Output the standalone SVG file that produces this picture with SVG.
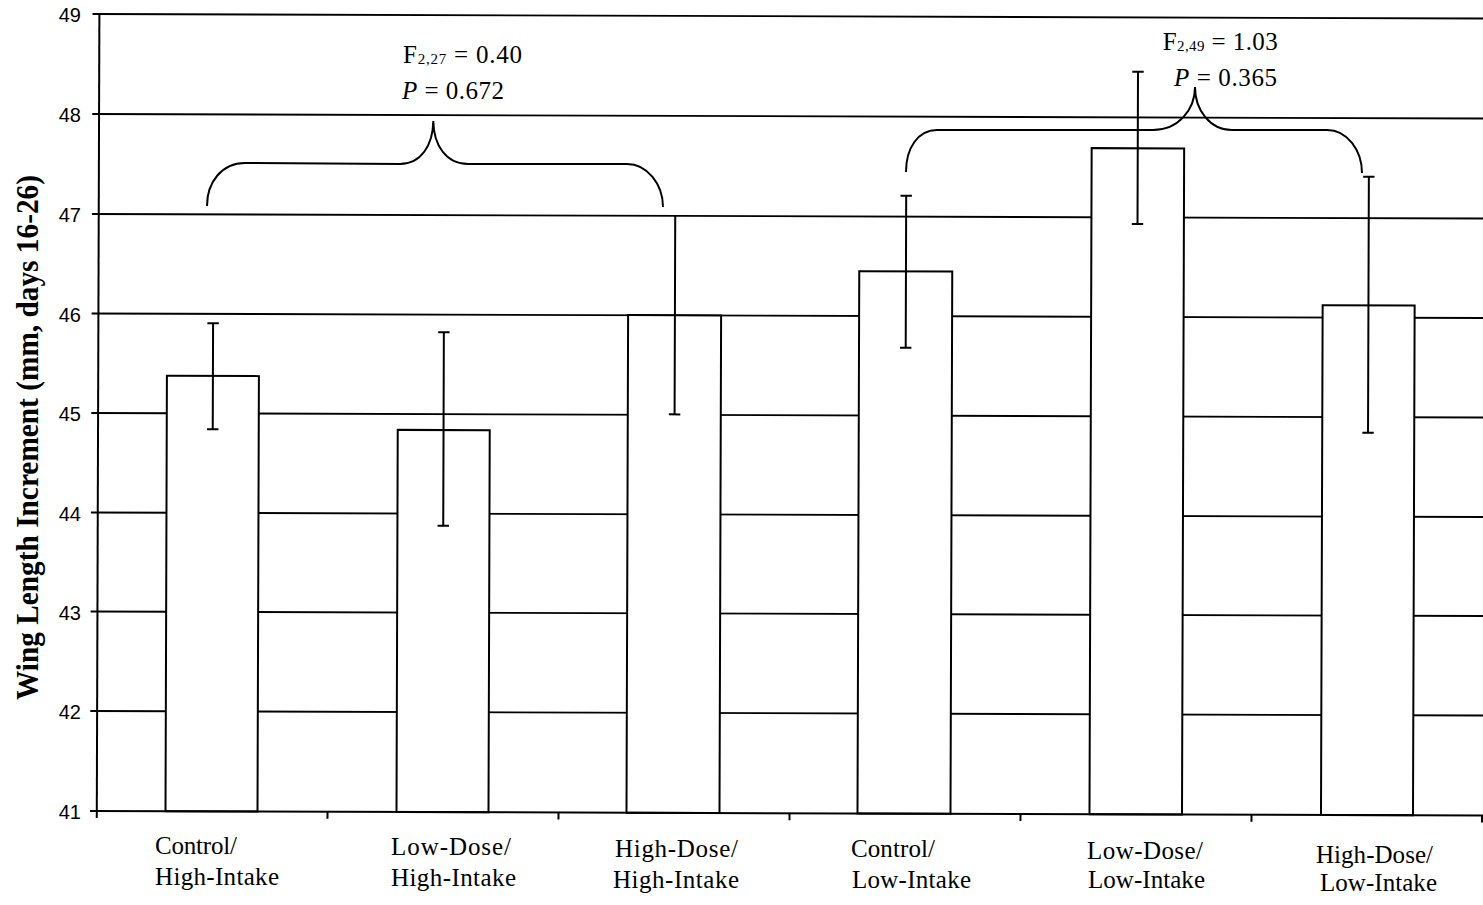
<svg xmlns="http://www.w3.org/2000/svg" width="1483" height="905" viewBox="0 0 1483 905">
<style>
.grid{stroke:#000;stroke-width:1.8;fill:none}
.axis{stroke:#000;stroke-width:2;fill:none}
.bar{fill:#fff;stroke:#000;stroke-width:2}
.err{stroke:#000;stroke-width:2;fill:none}
.brace{stroke:#000;stroke-width:2;fill:none}
.tick{font-family:"Liberation Sans",Arial,sans-serif;font-size:20px;fill:#000;text-anchor:end}
.cat{font-family:"Liberation Serif","Times New Roman",serif;font-size:25px;fill:#000}
.stat{font-family:"Liberation Serif","Times New Roman",serif;font-size:25px;fill:#000}
.ytitle{font-family:"Liberation Serif","Times New Roman",serif;font-size:31px;font-weight:bold;fill:#000;text-anchor:middle}
</style>
<rect width="1483" height="905" fill="#fff"/>
<g id="plot" transform="rotate(0.186 97 811)">
  <g id="gridlines" class="grid">
    <line x1="90" y1="14" x2="1490" y2="14"/>
    <line x1="90" y1="114" x2="1490" y2="114"/>
    <line x1="90" y1="214" x2="1490" y2="214"/>
    <line x1="90" y1="313.5" x2="1490" y2="313.5"/>
    <line x1="90" y1="413" x2="1490" y2="413"/>
    <line x1="90" y1="512.5" x2="1490" y2="512.5"/>
    <line x1="90" y1="611.5" x2="1490" y2="611.5"/>
    <line x1="90" y1="711" x2="1490" y2="711"/>
  </g>
  <g id="bar1"><rect class="bar" x="165.5" y="375.6" width="92" height="435.4"/></g>
  <g id="bar2"><rect class="bar" x="396.5" y="428.9" width="92" height="382.1"/></g>
  <g id="bar3"><rect class="bar" x="626.5" y="313.4" width="93" height="497.6"/></g>
  <g id="bar4"><rect class="bar" x="857.5" y="268.7" width="93" height="542.3"/></g>
  <g id="bar5"><rect class="bar" x="1089.5" y="144.9" width="92.5" height="666.1"/></g>
  <g id="bar6"><rect class="bar" x="1321" y="301.2" width="92" height="509.8"/></g>
  <g id="axes" class="axis">
    <line x1="96.8" y1="13" x2="96.8" y2="818"/>
    <line x1="90" y1="811" x2="1490" y2="811"/>
    <line x1="327.5" y1="811" x2="327.5" y2="818"/>
    <line x1="558.5" y1="811" x2="558.5" y2="818"/>
    <line x1="789.5" y1="811" x2="789.5" y2="818"/>
    <line x1="1020.5" y1="811" x2="1020.5" y2="818"/>
    <line x1="1251.5" y1="811" x2="1251.5" y2="818"/>
    <line x1="1482" y1="811" x2="1482" y2="818"/>
  </g>
  <g id="errorbars" class="err">
    <path d="M211.5 322.9V428.9M205.8 322.9H217.2M205.8 428.9H217.2"/>
    <path d="M442.3 331.2V524.6M436.6 331.2H448M436.6 524.6H448"/>
    <path d="M673.3 213.2V412.5M667.6 412.5H679"/>
    <path d="M904.2 193.1V345.1M898.5 193.1H909.9M898.5 345.1H909.9"/>
    <path d="M1135.6 68.3V220.6M1129.9 68.3H1141.3M1129.9 220.6H1141.3"/>
    <path d="M1366.8 172.6V428.6M1361.1 172.6H1372.5M1361.1 428.6H1372.5"/>
  </g>
</g>
<g id="tick-labels">
  <text class="tick" x="81" y="22">49</text>
  <text class="tick" x="81" y="122">48</text>
  <text class="tick" x="81" y="222">47</text>
  <text class="tick" x="81" y="321.5">46</text>
  <text class="tick" x="81" y="421">45</text>
  <text class="tick" x="81" y="520.5">44</text>
  <text class="tick" x="81" y="619.5">43</text>
  <text class="tick" x="81" y="719">42</text>
  <text class="tick" x="81" y="819">41</text>
</g>
<text class="ytitle" transform="translate(38 437.5) rotate(-90)" textLength="525" lengthAdjust="spacingAndGlyphs">Wing Length Increment (mm, days 16-26)</text>
<g id="braces" class="brace">
  <path d="M207 206 C207 182 222 163 245 163 L400 164 C421 164 433 145 433.3 121 C433.6 145 446 164 468 164 L627 164 C647 164 663 184 663 207"/>
  <path d="M906 172 C906 148 918 130 937 130 L1153 130 C1178 130 1195 110 1195 87 C1195 110 1210 130 1232 130 L1327 130 C1347 130 1362 150 1362 173"/>
</g>
<g id="stats">
  <text class="stat" x="403" y="63" textLength="119" lengthAdjust="spacing">F<tspan font-size="15" dy="1">2,27</tspan><tspan dy="-1"> = 0.40</tspan></text>
  <text class="stat" x="402" y="99" textLength="102" lengthAdjust="spacing"><tspan font-style="italic">P</tspan> = 0.672</text>
  <text class="stat" x="1162.7" y="49.5" textLength="115" lengthAdjust="spacing">F<tspan font-size="15" dy="1">2,49</tspan><tspan dy="-1"> = 1.03</tspan></text>
  <text class="stat" x="1174" y="86" textLength="103" lengthAdjust="spacing"><tspan font-style="italic">P</tspan> = 0.365</text>
</g>
<g id="category-labels" class="cat">
  <text x="155" y="854" textLength="82" lengthAdjust="spacing">Control/</text>
  <text x="155" y="885" textLength="124" lengthAdjust="spacing">High-Intake</text>
  <text x="391" y="855" textLength="120" lengthAdjust="spacing">Low-Dose/</text>
  <text x="391" y="886" textLength="125" lengthAdjust="spacing">High-Intake</text>
  <text x="615" y="857" textLength="123" lengthAdjust="spacing">High-Dose/</text>
  <text x="613" y="888" textLength="126" lengthAdjust="spacing">High-Intake</text>
  <text x="851" y="857" textLength="84" lengthAdjust="spacing">Control/</text>
  <text x="852" y="888" textLength="119" lengthAdjust="spacing">Low-Intake</text>
  <text x="1087" y="859" textLength="116" lengthAdjust="spacing">Low-Dose/</text>
  <text x="1088" y="888" textLength="117" lengthAdjust="spacing">Low-Intake</text>
  <text x="1316" y="863" textLength="117" lengthAdjust="spacing">High-Dose/</text>
  <text x="1320" y="891" textLength="117" lengthAdjust="spacing">Low-Intake</text>
</g>
</svg>
